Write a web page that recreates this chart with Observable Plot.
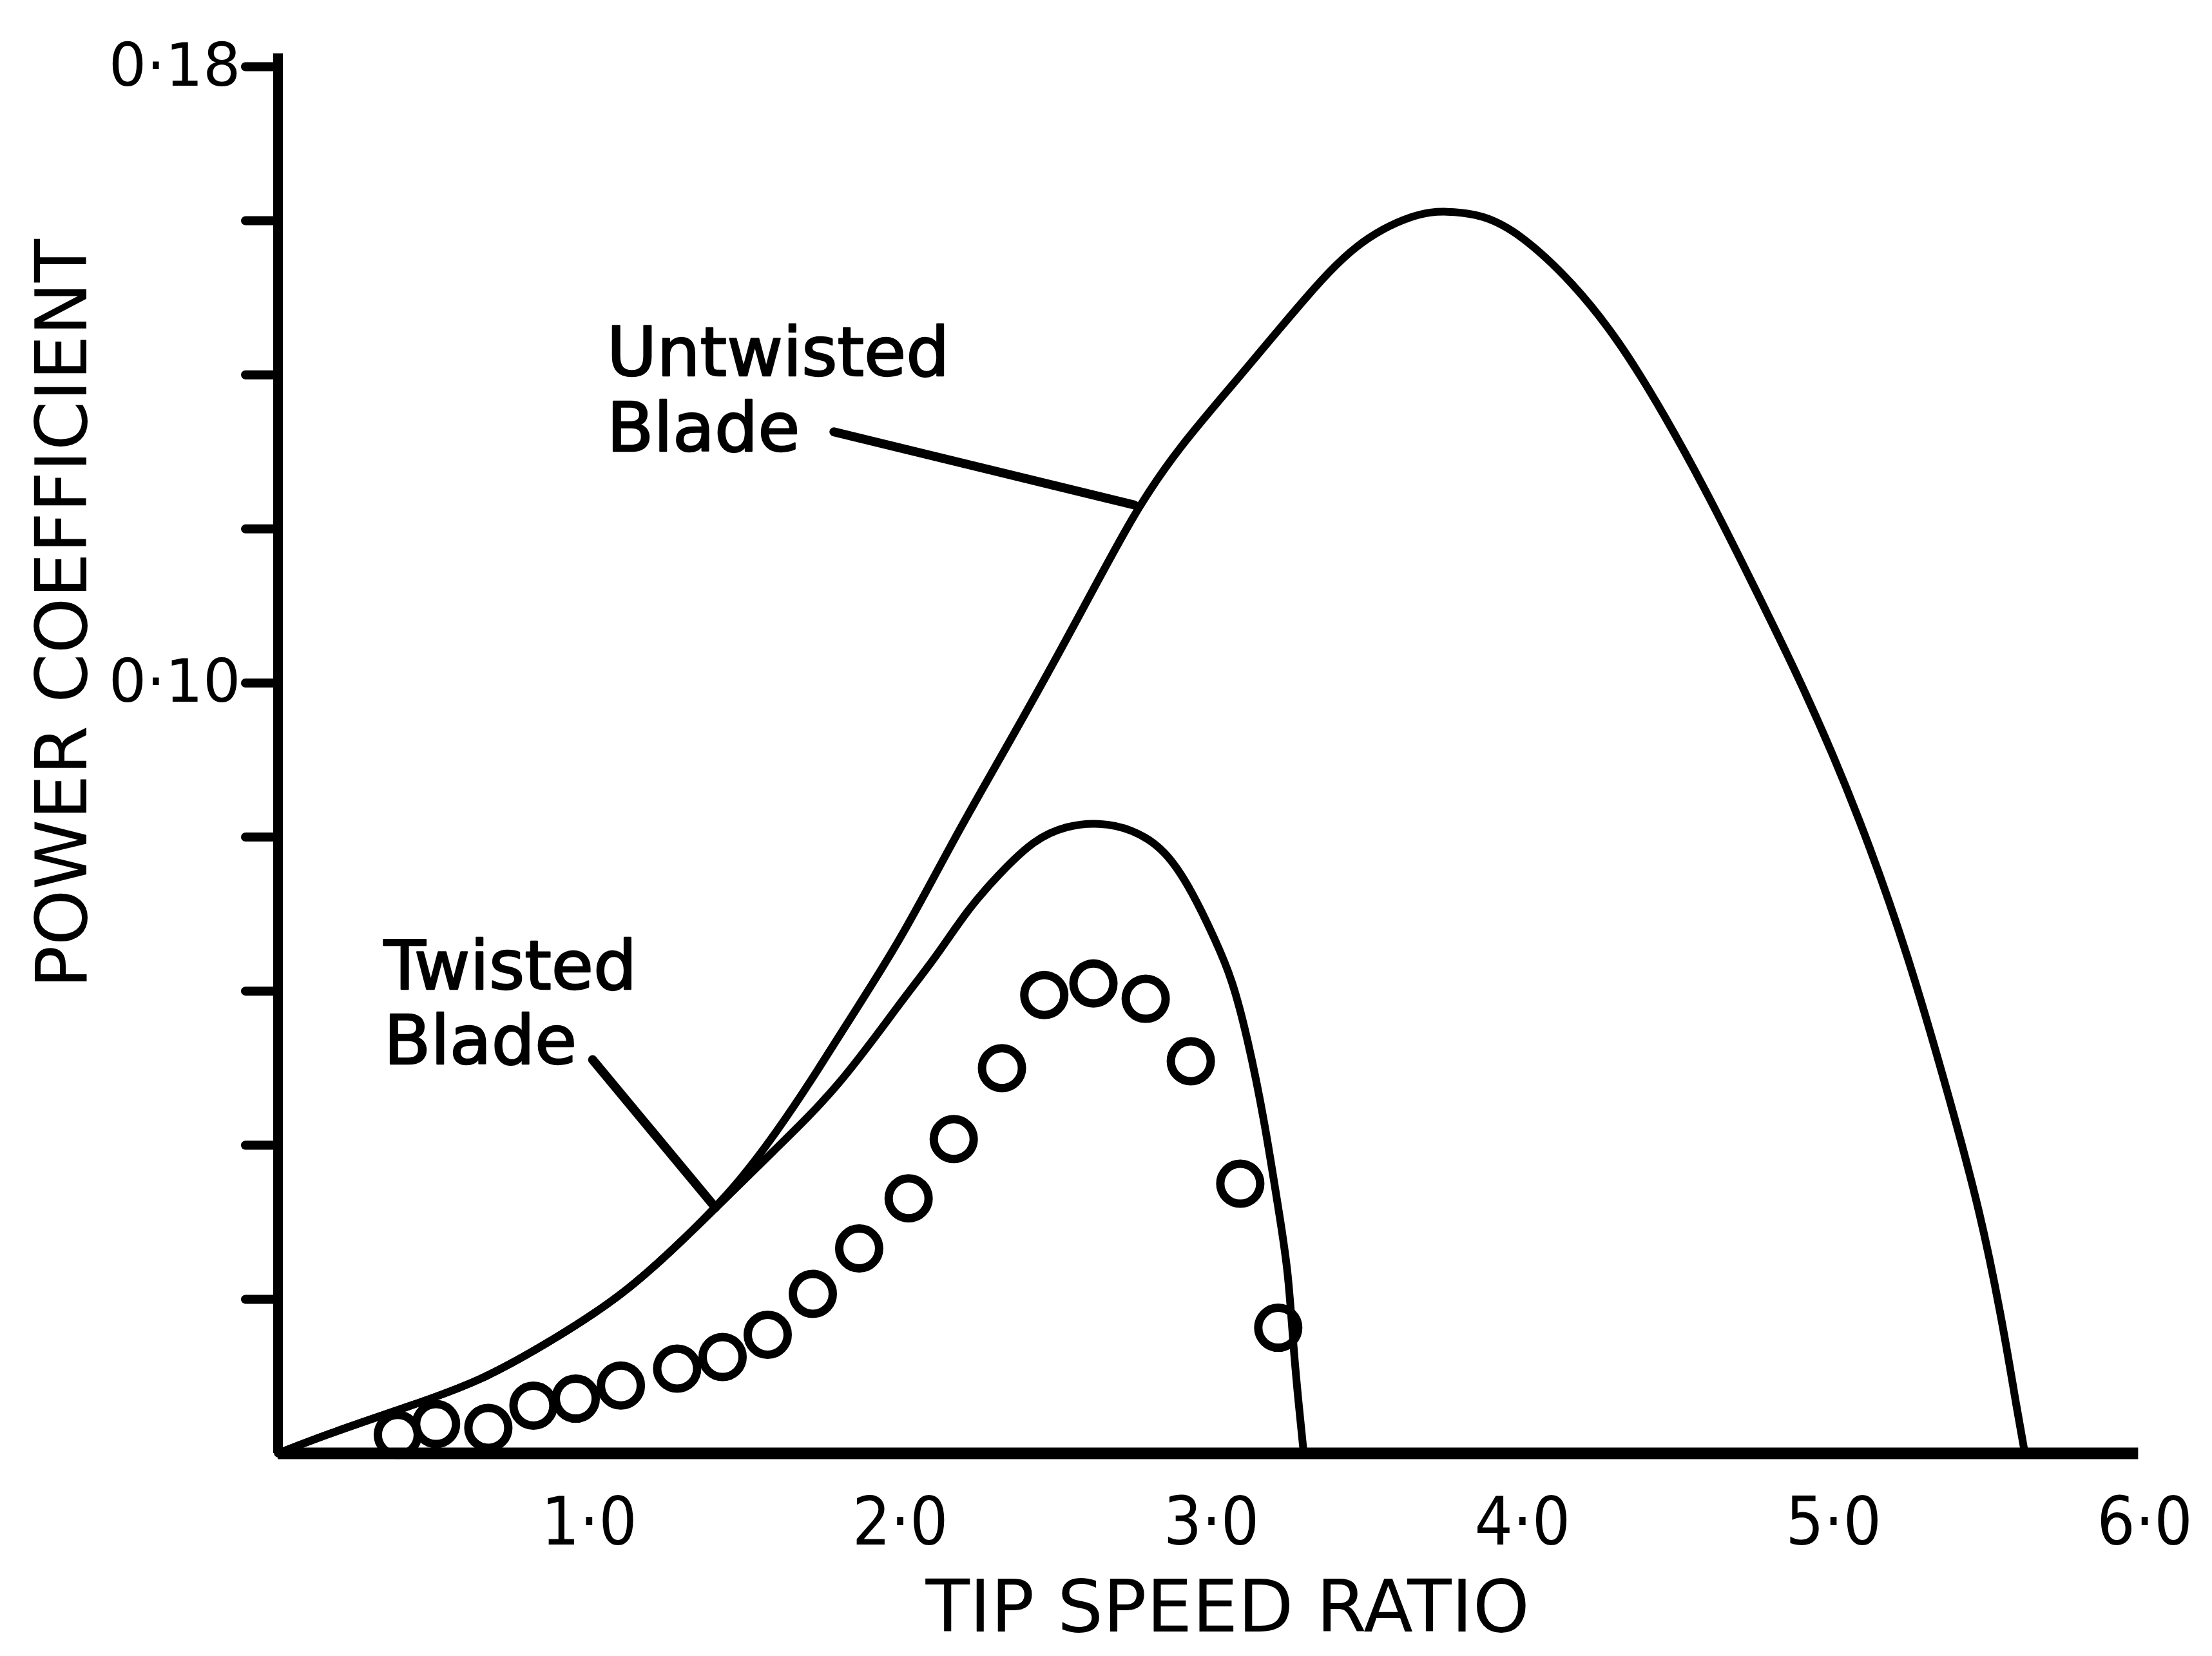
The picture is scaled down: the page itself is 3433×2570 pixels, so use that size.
<!DOCTYPE html>
<html>
<head>
<meta charset="utf-8">
<script src="https://cdn.jsdelivr.net/npm/d3@7"></script>
<script src="https://cdn.jsdelivr.net/npm/@observablehq/plot@0.6"></script>
<style>
  html, body { margin: 0; padding: 0; background: #fff; }
</style>
</head>
<body>
<div id="chart"></div>
<script>
// Untwisted blade (theory curve)
const tsrUntwisted = [0, 0.172, 0.413, 0.649, 0.884, 1.125, 1.361, 1.483, 1.601, 1.719, 1.800, 2.005, 2.172, 2.354, 2.567, 2.753, 2.898, 3.075, 3.293, 3.465, 3.655, 3.755, 3.873, 3.991, 4.163, 4.313, 4.454, 4.599, 4.735, 4.880, 4.998, 5.116, 5.238, 5.356, 5.474, 5.546, 5.592, 5.615];
const cpUntwisted  = [0, 0.0027, 0.0060, 0.0093, 0.0147, 0.0209, 0.0300, 0.0353, 0.0416, 0.0487, 0.0540, 0.0668, 0.0798, 0.0925, 0.1080, 0.1223, 0.1307, 0.1390, 0.1496, 0.1573, 0.1610, 0.1613, 0.1608, 0.1584, 0.1520, 0.1443, 0.1350, 0.1243, 0.1133, 0.1014, 0.0908, 0.0789, 0.0648, 0.0485, 0.0311, 0.0163, 0.0051, 0];

// Twisted blade (theory curve)
const tsrTwisted = [0, 0.172, 0.413, 0.649, 0.884, 1.125, 1.361, 1.601, 1.800, 2.005, 2.113, 2.218, 2.322, 2.431, 2.535, 2.639, 2.744, 2.853, 2.939, 3.011, 3.066, 3.116, 3.170, 3.220, 3.247, 3.265, 3.283, 3.297];
const cpTwisted  = [0, 0.0027, 0.0060, 0.0093, 0.0147, 0.0209, 0.0300, 0.0396, 0.0474, 0.0588, 0.0643, 0.0707, 0.0754, 0.0797, 0.0815, 0.0819, 0.0811, 0.0784, 0.0729, 0.0668, 0.0617, 0.0540, 0.0434, 0.0306, 0.0238, 0.0130, 0.0055, 0];

// Experimental points (circles)
const tsrExp = [0.385, 0.508, 0.676, 0.821, 0.957, 1.102, 1.283, 1.429, 1.574, 1.719, 1.868, 2.027, 2.172, 2.327, 2.463, 2.621, 2.789, 2.934, 3.093, 3.215];
const cpExp  = [0.0024, 0.0038, 0.0033, 0.0062, 0.0071, 0.0088, 0.0110, 0.0125, 0.0154, 0.0207, 0.0266, 0.0331, 0.0408, 0.0500, 0.0595, 0.0610, 0.0590, 0.0509, 0.0350, 0.0163];

// Axis ticks and labels
const yTicks = [0.02, 0.04, 0.06, 0.08, 0.10, 0.12, 0.14, 0.16, 0.18];
const yTickLabels = ["", "", "", "", "0·10", "", "", "", "0·18"];
const xTicks = [1, 2, 3, 4, 5, 6];
const xTickLabels = ["1·0", "2·0", "3·0", "4·0", "5·0", "6·0"];

// Annotations
const annLabels = ["Untwisted\nBlade", "Twisted\nBlade"];
const annX = [1.057, 0.340];
const annY = [0.1468, 0.0672];
const leaderX1 = [1.787, 1.011];
const leaderY1 = [0.1326, 0.0511];
const leaderX2 = [2.753, 1.406];
const leaderY2 = [0.1231, 0.0319];

// Axis titles
const xTitle = "TIP SPEED RATIO";
const yTitle = "POWER COEFFICIENT";
const xTitlePos = [3.052, -0.0201];
const yTitlePos = [-0.689, 0.109];

const untwisted = tsrUntwisted.map((x, i) => ({x, y: cpUntwisted[i]}));
const twisted = tsrTwisted.map((x, i) => ({x, y: cpTwisted[i]}));
const exp = tsrExp.map((x, i) => ({x, y: cpExp[i]}));
const anns = annLabels.map((t, i) => ({x: annX[i], y: annY[i], t}));
const leaders = leaderX1.map((x1, i) => ({x1, y1: leaderY1[i], x2: leaderX2[i], y2: leaderY2[i]}));

const chart = Plot.plot({
  width: 3433,
  height: 2570,
  marginLeft: 431,
  marginRight: 105,
  marginTop: 103,
  marginBottom: 315,
  x: {domain: [0, 6], axis: null},
  y: {domain: [0, 0.18], axis: null},
  style: {background: "white", color: "black", fontFamily: "DejaVu Sans"},
  marks: [
    Plot.ruleX([0], {y1: 0, y2: 0.1817, stroke: "black", strokeWidth: 15}),
    Plot.ruleY([0], {x1: 0, x2: 5.98, stroke: "black", strokeWidth: 18}),
    Plot.axisY({
      ticks: yTicks,
      tickSize: 50,
      tickPadding: 8,
      tickFormat: (d) => yTickLabels[yTicks.findIndex(v => Math.abs(v - d) < 1e-9)],
      fontSize: 92,
      fontFamily: "DejaVu Sans",
      strokeWidth: 14,
      strokeLinecap: "round",
      label: null
    }),
    Plot.axisX({
      ticks: xTicks,
      tickSize: 0,
      tickPadding: 68,
      tickFormat: (d) => xTickLabels[xTicks.indexOf(d)],
      fontSize: 104,
      fontFamily: "DejaVu Sans Condensed, DejaVu Sans",
      label: null
    }),
    Plot.line(untwisted, {x: "x", y: "y", stroke: "black", strokeWidth: 12, curve: "basis"}),
    Plot.line(twisted, {x: "x", y: "y", stroke: "black", strokeWidth: 12, curve: "basis"}),
    Plot.dot(exp, {x: "x", y: "y", r: 31, stroke: "black", strokeWidth: 13, fill: "none"}),
    Plot.link(leaders, {x1: "x1", y1: "y1", x2: "x2", y2: "y2", stroke: "black", strokeWidth: 14, strokeLinecap: "round"}),
    Plot.text(anns, {x: "x", y: "y", text: "t", textAnchor: "start", lineAnchor: "top", fontSize: 106, lineHeight: 1.1, fill: "black", stroke: "black", strokeWidth: 2.5}),
    Plot.text([yTitle], {x: () => yTitlePos[0], y: () => yTitlePos[1], text: (d) => d, rotate: -90, fontSize: 110, fill: "black"}),
    Plot.text([xTitle], {x: () => xTitlePos[0], y: () => xTitlePos[1], text: (d) => d, fontSize: 112, fill: "black"})
  ]
});
document.getElementById("chart").appendChild(chart);
</script>
</body>
</html>
